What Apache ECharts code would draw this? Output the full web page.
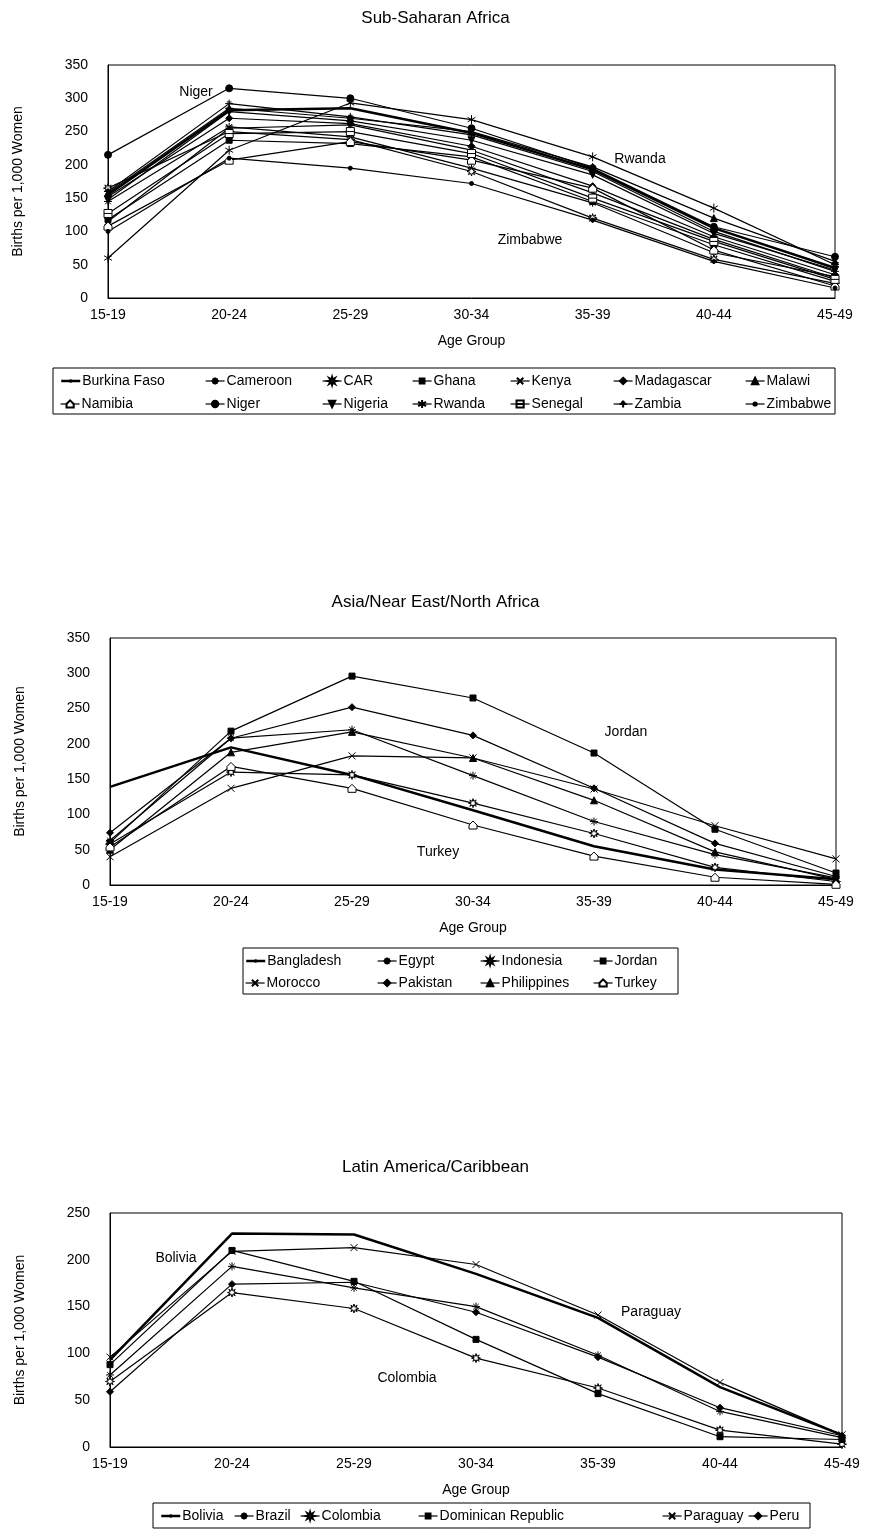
<!DOCTYPE html>
<html><head><meta charset="utf-8">
<script src="https://cdn.jsdelivr.net/npm/echarts@6/dist/echarts.min.js"></script>
<style>html,body{margin:0;padding:0;background:#fff}#c{width:871px;height:1530px}</style>
</head><body><div id="c"></div>
<script>
// ---------- DATA ----------
const ageGroups = ['15-19', '20-24', '25-29', '30-34', '35-39', '40-44', '45-49'];

// Sub-Saharan Africa
const burkinaFaso = [155, 282, 285, 248, 193, 105, 45];
const cameroon    = [145, 257, 242, 195, 143, 68, 32];
const car         = [165, 250, 238, 190, 120, 58, 22];
const ghana       = [118, 237, 232, 212, 145, 80, 25];
const kenya       = [115, 255, 260, 222, 158, 88, 30];
const madagascar  = [152, 270, 262, 228, 168, 92, 35];
const malawi      = [158, 285, 270, 250, 197, 120, 55];
const namibia     = [108, 207, 235, 207, 165, 72, 18];
const niger       = [215, 315, 300, 255, 195, 107, 62];
const nigeria     = [148, 280, 266, 237, 185, 97, 42];
const rwanda      = [60, 222, 293, 268, 212, 135, 50];
const senegal     = [127, 247, 250, 217, 150, 85, 28];
const zambia      = [160, 292, 272, 245, 190, 100, 40];
const zimbabwe    = [100, 210, 195, 172, 117, 55, 15];

// Asia/Near East/North Africa
const bangladesh  = [139, 195, 156, 106, 55, 22, 8];
const egypt       = [63, 208, 220, 155, 90, 43, 10];
const indonesia   = [58, 160, 156, 116, 73, 25, 5];
const jordan      = [60, 218, 296, 265, 187, 79, 17];
const morocco     = [40, 137, 183, 180, 136, 84, 37];
const pakistan    = [74, 208, 252, 212, 137, 59, 12];
const philippines = [50, 188, 217, 180, 120, 47, 8];
const turkey      = [54, 168, 137, 85, 41, 11, 1];

// Latin America/Caribbean
const bolivia           = [93, 228, 227, 185, 138, 64, 13];
const brazil            = [77, 193, 170, 150, 98, 38, 10];
const colombia          = [70, 165, 148, 95, 63, 18, 3];
const dominicanRepublic = [88, 210, 177, 115, 57, 11, 8];
const paraguay          = [96, 209, 213, 195, 141, 69, 13];
const peru              = [59, 174, 176, 144, 96, 42, 12];

// ---------- STYLE / LAYOUT ----------
const FONT = '"Liberation Sans", Arial, sans-serif';
function starPath(n, r1, r2) {
  let d = 'path://';
  for (let i = 0; i < 2 * n; i++) {
    const a = -Math.PI / 2 + i * Math.PI / n, r = i % 2 ? r2 : r1;
    d += (i ? 'L' : 'M') + (5 + r * Math.cos(a)).toFixed(2) + ',' + (5 + r * Math.sin(a)).toFixed(2);
  }
  return d + 'Z';
}
const MK = {
  thick:     { symbol: 'none', lw: 2.5 },
  ast8:      { symbol: 'path://M5,0L5,10M0,5L10,5M1.5,1.5L8.5,8.5M1.5,8.5L8.5,1.5', size: 8 },
  openStar:  { symbol: starPath(8, 5, 2.2), size: 9, fill: '#fff' },
  square:    { symbol: 'rect', size: 6 },
  cross:     { symbol: 'path://M0,0L10,10M10,0L0,10', size: 7 },
  diamond:   { symbol: 'diamond', size: 7 },
  triangle:  { symbol: 'triangle', size: 7 },
  house:     { symbol: 'path://M5,0L10,5L10,10L0,10L0,5Z', size: 8, fill: '#fff' },
  dot:       { symbol: 'circle', size: 7 },
  invTri:    { symbol: 'triangle', size: 7, rotate: 180 },
  ast6:      { symbol: 'path://M5,0L5,10M0.67,2.5L9.33,7.5M0.67,7.5L9.33,2.5', size: 9 },
  openSqLn:  { symbol: 'path://M0,0L10,0L10,10L0,10ZM0,5L10,5', size: 8, fill: '#fff' },
  plus:      { symbol: 'path://M5,0L5,10M0,5L10,5M2,3L8,3', size: 8 },
  smallDot:  { symbol: 'circle', size: 4 }
};

const panels = [
  { title: 'Sub-Saharan Africa', titleTop: 10, grid: { left: 108, top: 65, width: 727, height: 233 }, max: 350,
    series: [
      ['Burkina Faso', burkinaFaso, 'thick'], ['Cameroon', cameroon, 'ast8'], ['CAR', car, 'openStar'],
      ['Ghana', ghana, 'square'], ['Kenya', kenya, 'cross'], ['Madagascar', madagascar, 'diamond'],
      ['Malawi', malawi, 'triangle'], ['Namibia', namibia, 'house'], ['Niger', niger, 'dot'],
      ['Nigeria', nigeria, 'invTri'], ['Rwanda', rwanda, 'ast6'], ['Senegal', senegal, 'openSqLn'],
      ['Zambia', zambia, 'plus'], ['Zimbabwe', zimbabwe, 'smallDot']
    ],
    legendX: [60, 205, 322, 412, 510, 613, 745], legendRows: [380, 403], legendCols: 7,
    box: [53, 368, 782, 46],
    notes: [['Niger', 196, 92], ['Rwanda', 640, 159], ['Zimbabwe', 530, 240]]
  },
  { title: 'Asia/Near East/North Africa', titleTop: 594, grid: { left: 110, top: 638, width: 726, height: 247 }, max: 350,
    series: [
      ['Bangladesh', bangladesh, 'thick'], ['Egypt', egypt, 'ast8'], ['Indonesia', indonesia, 'openStar'],
      ['Jordan', jordan, 'square'], ['Morocco', morocco, 'cross'], ['Pakistan', pakistan, 'diamond'],
      ['Philippines', philippines, 'triangle'], ['Turkey', turkey, 'house']
    ],
    legendX: [245, 377, 480, 593], legendRows: [960, 982], legendCols: 4,
    box: [243, 948, 435, 46],
    notes: [['Jordan', 626, 732], ['Turkey', 438, 852]]
  },
  { title: 'Latin America/Caribbean', titleTop: 1159, grid: { left: 110, top: 1213, width: 732, height: 234 }, max: 250,
    series: [
      ['Bolivia', bolivia, 'thick'], ['Brazil', brazil, 'ast8'], ['Colombia', colombia, 'openStar'],
      ['Dominican Republic', dominicanRepublic, 'square'], ['Paraguay', paraguay, 'cross'], ['Peru', peru, 'diamond']
    ],
    legendX: [160, 234, 300, 418, 662, 748], legendRows: [1515], legendCols: 6,
    box: [153, 1503, 657, 25],
    notes: [['Bolivia', 176, 1258], ['Paraguay', 651, 1312], ['Colombia', 407, 1378]]
  }
];

const option = {
  backgroundColor: '#fff', animation: false,
  title: [], grid: [], xAxis: [], yAxis: [], series: [], legend: [], graphic: []
};

panels.forEach((p, gi) => {
  option.title.push({ text: p.title, left: 'center', top: p.titleTop, padding: 0,
    textStyle: { fontFamily: FONT, fontSize: 17, fontWeight: 'normal', color: '#000' } });
  option.grid.push(Object.assign({ show: true, borderColor: '#000', borderWidth: 1, backgroundColor: 'transparent' }, p.grid));
  option.xAxis.push({ type: 'category', gridIndex: gi, data: ageGroups, boundaryGap: false,
    name: 'Age Group', nameLocation: 'middle', nameGap: 36,
    nameTextStyle: { fontFamily: FONT, fontSize: 14, color: '#000' },
    axisLine: { lineStyle: { color: '#000', width: 1 } }, axisTick: { show: false },
    axisLabel: { fontFamily: FONT, fontSize: 14, color: '#000', margin: 10 },
    splitLine: { show: false } });
  option.yAxis.push({ type: 'value', gridIndex: gi, min: 0, max: p.max, interval: 50,
    name: 'Births per 1,000 Women', nameLocation: 'middle', nameGap: 83, nameRotate: 90,
    nameTextStyle: { fontFamily: FONT, fontSize: 14, color: '#000' },
    axisLine: { show: true, lineStyle: { color: '#000', width: 1 } }, axisTick: { show: false },
    axisLabel: { fontFamily: FONT, fontSize: 14, color: '#000', margin: 20 },
    splitLine: { show: false } });
  p.series.forEach(([name, data, mkKey], si) => {
    const mk = MK[mkKey];
    const lw = mk.lw || 1.2;
    option.series.push({
      type: 'line', name, data, xAxisIndex: gi, yAxisIndex: gi,
      symbol: mk.symbol, symbolSize: mk.size || 0, symbolRotate: mk.rotate || 0, symbolKeepAspect: true,
      showSymbol: mk.symbol !== 'none',
      lineStyle: { color: '#000', width: lw },
      itemStyle: { color: mk.fill || '#000', borderColor: '#000', borderWidth: 1 },
      emphasis: { disabled: true }, silent: true
    });
    const col = si % p.legendCols, row = Math.floor(si / p.legendCols);
    const ih = mk.symbol === 'none' ? 2 : Math.round((mk.size - 1) / 0.8);
    option.legend.push({
      data: [name], left: p.legendX[col], top: p.legendRows[row] - 6, padding: 0, itemGap: 0,
      itemWidth: 19, itemHeight: ih, selectedMode: false,
      lineStyle: { color: '#000', width: lw },
      textStyle: { fontFamily: FONT, fontSize: 14, color: '#000', padding: [0, 0, 0, -3] }
    });
  });
  option.graphic.push({ type: 'rect', shape: { x: p.box[0], y: p.box[1], width: p.box[2], height: p.box[3] },
    style: { fill: 'none', stroke: '#000', lineWidth: 1 }, silent: true });
  p.notes.forEach(([t, x, y]) => option.graphic.push({ type: 'text', x, y,
    style: { text: t, fontFamily: FONT, fontSize: 14, fill: '#000', align: 'center', verticalAlign: 'middle' }, silent: true }));
});

const chart = echarts.init(document.getElementById('c'), null, { renderer: 'canvas' });
chart.setOption(option);
</script></body></html>
